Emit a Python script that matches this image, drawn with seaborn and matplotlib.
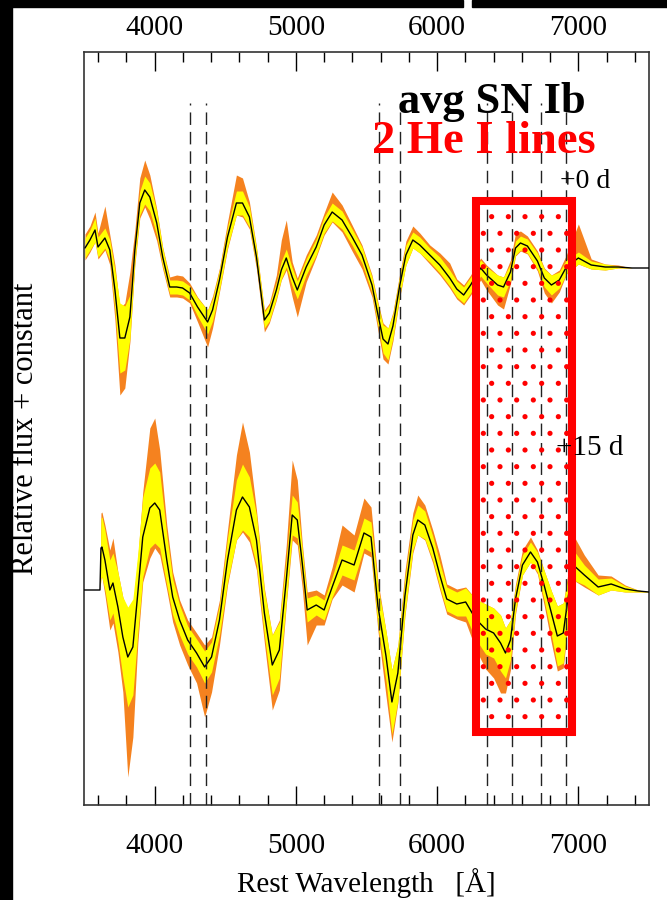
import numpy as np
import pandas as pd
import matplotlib
matplotlib.use("Agg")
import matplotlib.pyplot as plt
import seaborn as sns
from matplotlib.patches import Rectangle
from matplotlib.ticker import MultipleLocator

sns.set_theme(style="white")
plt.rcParams['font.family'] = ['Liberation Serif', 'DejaVu Serif']
plt.rcParams['hatch.linewidth'] = 1.3

# ---------------- data ----------------
# +0 d average spectrum (relative flux, continuum = 0)
wave0 = [3507, 3542, 3578, 3599, 3648, 3683, 3719, 3754, 3789, 3825, 3860, 3895, 3930, 3966,
         4015, 4057, 4107, 4156, 4198, 4248, 4304, 4375, 4410, 4459, 4516, 4579, 4622, 4671,
         4721, 4777, 4812, 4862, 4897, 4932, 4974, 5010, 5073, 5144, 5200, 5257, 5327, 5398,
         5468, 5539, 5574, 5617, 5652, 5687, 5736, 5779, 5828, 5877, 5948, 6019, 6089, 6139,
         6188, 6237, 6308, 6350, 6428, 6470, 6519, 6555, 6590, 6639, 6710, 6759, 6809, 6865,
         6915, 7000, 7091, 7190, 7281, 7380, 7500]
flux0 = [0.19, 0.27, 0.37, 0.20, 0.29, 0.17, -0.23, -0.71, -0.71, -0.50, 0.17, 0.64, 0.77, 0.70,
         0.44, 0.10, -0.20, -0.20, -0.21, -0.26, -0.40, -0.55, -0.43, -0.13, 0.30, 0.64, 0.64, 0.50,
         0.10, -0.53, -0.46, -0.23, -0.03, 0.09, -0.10, -0.23, 0.00, 0.20, 0.42, 0.55, 0.47, 0.30,
         0.12, -0.18, -0.43, -0.72, -0.77, -0.59, -0.18, 0.12, 0.27, 0.22, 0.12, 0.02, -0.11, -0.22,
         -0.28, -0.18, -0.01, -0.08, -0.18, -0.20, -0.05, 0.19, 0.24, 0.21, 0.06, -0.11, -0.18, -0.13,
         0.00, 0.09, 0.02, 0.00, 0.00, -0.01, -0.01]
sig0 = [0.10, 0.10, 0.12, 0.10, 0.10, 0.10, 0.20, 0.35, 0.32, 0.22, 0.12, 0.12, 0.14, 0.14,
        0.12, 0.09, 0.07, 0.07, 0.07, 0.07, 0.09, 0.12, 0.11, 0.10, 0.10, 0.12, 0.12, 0.10,
        0.09, 0.08, 0.08, 0.08, 0.09, 0.09, 0.09, 0.09, 0.08, 0.08, 0.08, 0.09, 0.09, 0.08,
        0.08, 0.08, 0.10, 0.14, 0.16, 0.12, 0.10, 0.10, 0.08, 0.08, 0.07, 0.08, 0.08, 0.08,
        0.08, 0.08, 0.08, 0.08, 0.10, 0.10, 0.08, 0.07, 0.07, 0.07, 0.08, 0.09, 0.10, 0.08,
        0.07, 0.06, 0.04, 0.03, 0.01, 0.00, 0.00]
max0 = [0.14, 0.14, 0.18, 0.14, 0.32, 0.15, 0.25, 0.30, 0.35, 0.45, 0.20, 0.25, 0.30, 0.22,
        0.14, 0.10, 0.10, 0.12, 0.12, 0.10, 0.10, 0.12, 0.14, 0.12, 0.15, 0.28, 0.25, 0.15,
        0.10, 0.10, 0.10, 0.15, 0.30, 0.38, 0.15, 0.12, 0.12, 0.12, 0.12, 0.20, 0.15, 0.12,
        0.10, 0.10, 0.12, 0.16, 0.16, 0.14, 0.12, 0.14, 0.14, 0.12, 0.10, 0.12, 0.15, 0.10,
        0.10, 0.10, 0.10, 0.10, 0.10, 0.10, 0.12, 0.15, 0.12, 0.10, 0.10, 0.10, 0.10, 0.10,
        0.12, 0.34, 0.06, 0.03, 0.02, 0.00, 0.00]
min0 = [0.12, 0.12, 0.12, 0.12, 0.12, 0.15, 0.30, 0.57, 0.50, 0.25, 0.15, 0.15, 0.17, 0.22,
        0.18, 0.12, 0.10, 0.10, 0.10, 0.10, 0.15, 0.25, 0.18, 0.12, 0.12, 0.12, 0.14, 0.12,
        0.12, 0.12, 0.10, 0.10, 0.10, 0.12, 0.20, 0.27, 0.15, 0.10, 0.10, 0.10, 0.12, 0.14,
        0.14, 0.12, 0.15, 0.20, 0.20, 0.15, 0.12, 0.10, 0.08, 0.08, 0.09, 0.10, 0.10, 0.10,
        0.10, 0.10, 0.12, 0.15, 0.20, 0.22, 0.12, 0.08, 0.08, 0.08, 0.10, 0.15, 0.18, 0.12,
        0.07, 0.06, 0.04, 0.03, 0.01, 0.00, 0.00]

# +15 d average spectrum
wave15 = [3500, 3613, 3620, 3627, 3648, 3683, 3705, 3740, 3775, 3810, 3846, 3881, 3916, 3966,
          4001, 4036, 4086, 4128, 4177, 4234, 4297, 4354, 4403, 4459, 4516, 4579, 4622, 4671,
          4721, 4777, 4833, 4883, 4932, 4974, 5010, 5045, 5080, 5144, 5200, 5257, 5327, 5412,
          5482, 5532, 5581, 5638, 5680, 5722, 5772, 5828, 5863, 5913, 5969, 6019, 6068, 6139,
          6202, 6273, 6343, 6400, 6449, 6484, 6519, 6555, 6604, 6661, 6710, 6759, 6809, 6851,
          6893, 6929, 6964, 7042, 7140, 7232, 7331, 7423, 7500]
flux15 = [0.00, 0.00, 0.42, 0.43, 0.30, 0.00, 0.07, -0.17, -0.47, -0.67, -0.57, -0.03, 0.53, 0.82,
          0.87, 0.80, 0.30, -0.07, -0.30, -0.50, -0.63, -0.77, -0.67, -0.30, 0.30, 0.80, 0.93, 0.83,
          0.50, -0.23, -0.75, -0.60, 0.10, 0.75, 0.70, 0.27, -0.20, -0.15, -0.20, 0.03, 0.30, 0.25,
          0.57, 0.53, -0.16, -0.66, -1.12, -0.83, -0.06, 0.55, 0.70, 0.65, 0.42, 0.15, -0.09, -0.14,
          -0.12, -0.29, -0.39, -0.43, -0.53, -0.63, -0.50, -0.09, 0.25, 0.38, 0.28, 0.04, -0.23, -0.46,
          -0.43, -0.06, 0.25, 0.15, 0.03, 0.06, 0.01, -0.01, -0.02]
sig15 = [0.00, 0.00, 0.30, 0.30, 0.30, 0.30, 0.30, 0.35, 0.40, 0.50, 0.48, 0.40, 0.40, 0.40,
         0.40, 0.38, 0.25, 0.18, 0.15, 0.14, 0.14, 0.16, 0.15, 0.15, 0.22, 0.30, 0.33, 0.30,
         0.25, 0.22, 0.30, 0.28, 0.22, 0.20, 0.18, 0.15, 0.12, 0.10, 0.10, 0.10, 0.15, 0.15,
         0.15, 0.15, 0.20, 0.25, 0.32, 0.28, 0.18, 0.15, 0.15, 0.14, 0.12, 0.12, 0.12, 0.12,
         0.14, 0.20, 0.25, 0.25, 0.28, 0.25, 0.20, 0.12, 0.10, 0.10, 0.10, 0.15, 0.22, 0.30,
         0.30, 0.20, 0.15, 0.10, 0.08, 0.06, 0.03, 0.01, 0.00]
max15 = [0.00, 0.00, 0.35, 0.35, 0.35, 0.40, 0.45, 0.35, 0.40, 0.45, 0.40, 0.35, 0.45, 0.80,
         0.85, 0.60, 0.35, 0.25, 0.20, 0.20, 0.20, 0.22, 0.20, 0.20, 0.30, 0.55, 0.75, 0.55,
         0.30, 0.25, 0.30, 0.30, 0.35, 0.55, 0.40, 0.20, 0.18, 0.15, 0.15, 0.20, 0.35, 0.30,
         0.35, 0.30, 0.25, 0.25, 0.32, 0.28, 0.25, 0.22, 0.25, 0.20, 0.18, 0.20, 0.15, 0.15,
         0.15, 0.20, 0.25, 0.25, 0.28, 0.25, 0.20, 0.15, 0.15, 0.15, 0.12, 0.15, 0.22, 0.30,
         0.30, 0.25, 0.30, 0.20, 0.12, 0.08, 0.04, 0.01, 0.00]
min15 = [0.00, 0.00, 0.30, 0.30, 0.35, 0.40, 0.40, 0.45, 0.55, 1.20, 0.90, 0.50, 0.45, 0.50,
         0.45, 0.45, 0.30, 0.25, 0.25, 0.25, 0.30, 0.50, 0.35, 0.25, 0.25, 0.30, 0.35, 0.35,
         0.30, 0.30, 0.45, 0.40, 0.25, 0.25, 0.25, 0.25, 0.35, 0.20, 0.15, 0.12, 0.25, 0.27,
         0.20, 0.20, 0.25, 0.40, 0.40, 0.30, 0.20, 0.18, 0.15, 0.15, 0.15, 0.15, 0.15, 0.15,
         0.20, 0.30, 0.40, 0.45, 0.50, 0.40, 0.30, 0.15, 0.10, 0.10, 0.12, 0.20, 0.30, 0.35,
         0.35, 0.25, 0.15, 0.12, 0.08, 0.06, 0.03, 0.01, 0.00]

offsets = {"+0 d": 5.38, "+15 d": 2.15}
he_lines = [4248, 4367, 5592, 5740, 6352, 6532, 6732, 6910]
he_box = (6273, 6957)
tick_labels = [4000, 5000, 6000, 7000]

# ---------------- figure ----------------
W, H = 667, 900
fig = plt.figure(figsize=(W / 100, H / 100), dpi=100, facecolor='white')


def fx(p):
    return p / W


def fy(p):
    return 1 - p / H


ax = fig.add_axes([fx(84), fy(805), fx(649) - fx(84), fy(52) - fy(805)])
ax.set_facecolor('white')

# black borders of the original slide
fig.patches.append(Rectangle((0, 0), fx(12), 1, transform=fig.transFigure,
                             color='black', zorder=0))
fig.patches.append(Rectangle((0, fy(7)), fx(463), 1 - fy(7), transform=fig.transFigure,
                             color='black', zorder=0))
fig.patches.append(Rectangle((fx(472), fy(7)), 1 - fx(472), 1 - fy(7),
                             transform=fig.transFigure, color='black', zorder=0))

ORANGE = '#f5821f'
YELLOW = '#ffff00'

frames = []
for label, w, f, s, hi, lo in [("+0 d", wave0, flux0, sig0, max0, min0),
                               ("+15 d", wave15, flux15, sig15, max15, min15)]:
    d = pd.DataFrame({"wave": w, "flux": np.array(f) + offsets[label],
                      "sig": s, "hi": hi, "lo": lo, "epoch": label})
    frames.append(d)
    ax.fill_between(d["wave"], d["flux"] - d["lo"], d["flux"] + d["hi"],
                    color=ORANGE, lw=0, zorder=2)
    ax.fill_between(d["wave"], d["flux"] - d["sig"], d["flux"] + d["sig"],
                    color=YELLOW, lw=0, zorder=2.5)
spec = pd.concat(frames, ignore_index=True)

sns.lineplot(data=spec, x="wave", y="flux", units="epoch", estimator=None, sort=False,
             color='black', lw=1.0, ax=ax, legend=False, zorder=3)

ax.vlines(he_lines, 0, (805 - 103) / 100, colors='#222222', lw=1.0,
          linestyles=(0, (9, 5)), zorder=4)

# highlighted He I box
bx0, bx1 = he_box
by0, by1 = (805 - 731.5) / 100, (805 - 200.5) / 100
ax.add_patch(Rectangle((bx0, by0), bx1 - bx0, by1 - by0, fill=False, lw=0,
                       edgecolor='red', hatch='.', zorder=4.5))
ax.add_patch(Rectangle((bx0, by0), bx1 - bx0, by1 - by0, fill=False, lw=5.8,
                       edgecolor='red', zorder=5, joinstyle='miter'))

ax.set_xlim(3500, 7500)
ax.set_ylim(0, (805 - 52) / 100)

ax.xaxis.set_major_locator(MultipleLocator(1000))
ax.xaxis.set_minor_locator(MultipleLocator(200))
ax.set_xticks(tick_labels)
ax.tick_params(axis='x', which='major', direction='in', length=14, width=1.0,
               top=True, bottom=True, labeltop=False, labelbottom=True,
               pad=20, labelsize=21, colors='black')
ax.tick_params(axis='x', which='minor', direction='in', length=7, width=1.0,
               top=True, bottom=True, colors='black')
ax.tick_params(axis='y', left=False, right=False, labelleft=False)
for sp in ax.spines.values():
    sp.set_visible(True)
    sp.set_color('#333333')
    sp.set_linewidth(1.2)

sec = ax.secondary_xaxis('top')
sec.set_xticks(tick_labels)
sec.tick_params(axis='x', length=0, pad=8, labelsize=21, colors='black')
sec.spines['top'].set_visible(False)

ax.set_xlabel("Rest Wavelength   [Å]", fontsize=21, labelpad=7, color='black')
ax.set_ylabel("Relative flux + constant", fontsize=22, color='black')
ax.yaxis.set_label_coords(-0.078, 0.5)

fig.text(fx(398), fy(113), "avg SN Ib", fontsize=32, fontweight='bold',
         color='black', ha='left', va='baseline')
fig.text(fx(372), fy(153), "2 He I lines", fontsize=33.5, fontweight='bold',
         color='red', ha='left', va='baseline')
fig.text(fx(560), fy(188), "+0 d", fontsize=20, color='black', ha='left', va='baseline')
fig.text(fx(556), fy(455), "+15 d", fontsize=21, color='black', ha='left', va='baseline')

fig.savefig("out.png", dpi=100, facecolor='white')
